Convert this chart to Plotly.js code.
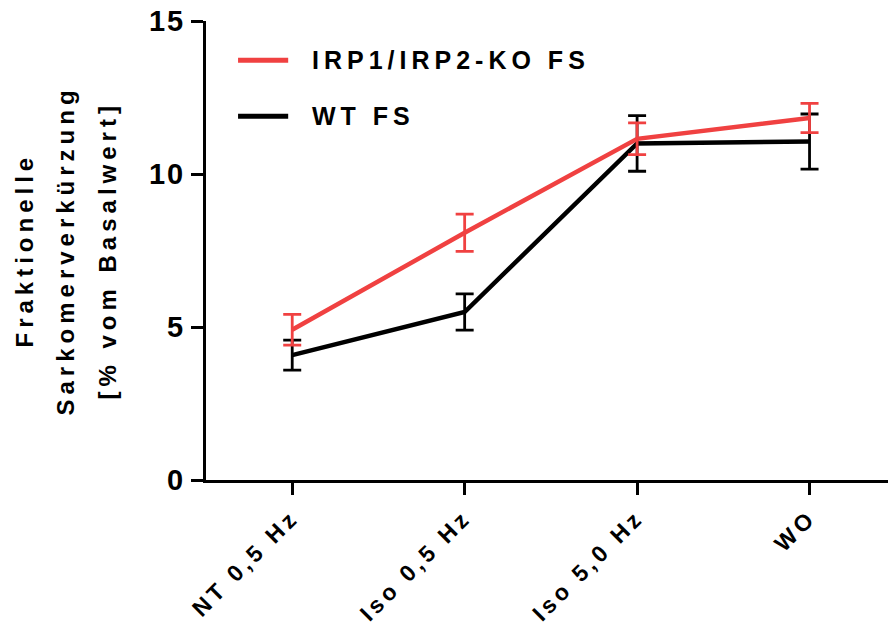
<!DOCTYPE html>
<html>
<head>
<meta charset="utf-8">
<script src="https://cdn.plot.ly/plotly-3.0.1.min.js"></script>
<style>
  html, body { margin: 0; padding: 0; background: #fff; }
  #chart { width: 888px; height: 631px; }
  .xtick text { letter-spacing: 4px; }
  .ytick text { letter-spacing: 2px; }
  .annotation-text { letter-spacing: 5px; }
</style>
</head>
<body>
<div id="chart"></div>
<script>
// Stimulation protocol steps
const categories = ['NT 0,5 Hz', 'Iso 0,5 Hz', 'Iso 5,0 Hz', 'WO'];

// Fractional sarcomere shortening (% of baseline), mean ± SEM
const koMean = [4.91, 8.08, 11.15, 11.83];
const koErr  = [0.50, 0.61, 0.52, 0.48];
const wtMean = [4.08, 5.49, 11.00, 11.06];
const wtErr  = [0.49, 0.59, 0.91, 0.90];

const seriesNames = ['IRP1/IRP2-KO FS', 'WT FS'];
const yTicks = [0, 5, 10, 15];

const RED = '#F04141';
const BLACK = '#000000';
const FONT = 'Liberation Sans, Arial, sans-serif';

const traces = [
  {
    x: categories, y: wtMean, name: seriesNames[1], type: 'scatter', mode: 'lines',
    line: { color: BLACK, width: 4.5 },
    error_y: { type: 'data', array: wtErr, visible: true, color: BLACK, thickness: 2.8, width: 9 }
  },
  {
    x: categories, y: koMean, name: seriesNames[0], type: 'scatter', mode: 'lines',
    line: { color: RED, width: 4.5 },
    error_y: { type: 'data', array: koErr, visible: true, color: RED, thickness: 2.8, width: 9 }
  }
];

// Stacked y-axis title lines
const yTitleLines = ['Fraktionelle', 'Sarkomerverkürzung', '[% vom Basalwert]'];
const yTitleShift = [-182, -141, -99];

const annotations = yTitleLines.map((t, i) => ({
  text: t, xref: 'paper', yref: 'paper', x: 0, y: 0.5,
  xanchor: 'center', yanchor: 'middle', xshift: yTitleShift[i],
  textangle: -90, showarrow: false,
  font: { family: FONT, size: 24, color: '#000', weight: 'bold' }
}));

// Legend drawn as line swatches with labels
const legendY = [0.9145, 0.7925];
const legendColors = [RED, BLACK];
const shapes = [];
seriesNames.forEach((name, i) => {
  shapes.push({
    type: 'line', xref: 'paper', yref: 'paper',
    x0: 0.047, x1: 0.1205, y0: legendY[i], y1: legendY[i],
    line: { color: legendColors[i], width: 5 }
  });
  annotations.push({
    text: name, xref: 'paper', yref: 'paper', x: 0.152, y: legendY[i],
    xanchor: 'left', yanchor: 'middle', showarrow: false,
    font: { family: FONT, size: 25, color: '#000', weight: 'bold' }
  });
});

const layout = {
  width: 888, height: 631,
  margin: { l: 206, r: 0, t: 21, b: 151, pad: 0 },
  paper_bgcolor: '#fff', plot_bgcolor: '#fff',
  showlegend: false,
  font: { family: FONT, color: '#000' },
  xaxis: {
    type: 'category', range: [-0.5, 3.455],
    showline: true, linecolor: '#000', linewidth: 3,
    ticks: 'outside', ticklen: 12, tickwidth: 3, tickcolor: '#000',
    tickangle: -45, showgrid: false, zeroline: false,
    tickfont: { family: FONT, size: 23, color: '#000', weight: 'bold' }
  },
  yaxis: {
    range: [0, 15], tickvals: yTicks, ticktext: yTicks.map(String),
    showline: true, linecolor: '#000', linewidth: 3,
    ticks: 'outside', ticklen: 12, tickwidth: 3, tickcolor: '#000',
    showgrid: false, zeroline: false,
    tickfont: { family: FONT, size: 29, color: '#000', weight: 'bold' }
  },
  shapes: shapes,
  annotations: annotations
};

Plotly.newPlot('chart', traces, layout, { staticPlot: true, displayModeBar: false });
</script>
</body>
</html>
